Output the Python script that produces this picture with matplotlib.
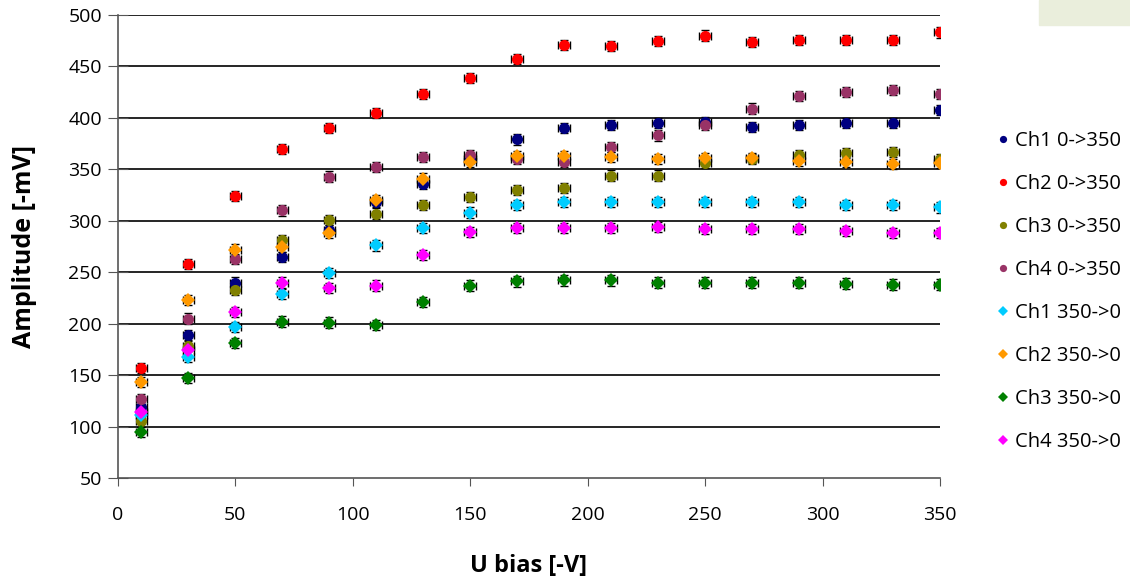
import matplotlib
matplotlib.use("Agg")
import matplotlib.pyplot as plt
from matplotlib.patches import Rectangle

x_bias = [10, 30, 50, 70, 90, 110, 130, 150, 170, 190, 210, 230, 250, 270, 290, 310, 330, 350]

ch1_up = [119, 189, 240, 265, 291, 318, 336, 360, 379, 390, 393, 395, 396, 391, 393, 395, 395, 408]
ch2_up = [157, 258, 324, 370, 390, 405, 423, 439, 457, 471, 470, 475, 480, 474, 476, 476, 476, 483]
ch3_up = [105, 178, 233, 281, 301, 307, 315, 323, 330, 332, 344, 344, 356, 360, 364, 366, 367, 360]
ch4_up = [127, 205, 263, 310, 343, 352, 362, 364, 360, 357, 372, 383, 393, 409, 421, 425, 427, 423]
ch1_down = [111, 168, 197, 229, 249, 276, 293, 308, 315, 318, 318, 318, 318, 318, 318, 315, 315, 313]
ch2_down = [143, 223, 272, 275, 288, 320, 341, 357, 363, 363, 362, 360, 361, 361, 358, 357, 355, 356]
ch3_down = [95, 147, 181, 202, 201, 199, 221, 237, 241, 242, 242, 240, 240, 240, 240, 239, 238, 238]
ch4_down = [114, 174, 211, 240, 235, 237, 267, 289, 293, 293, 293, 294, 292, 292, 292, 290, 288, 288]

series_labels = ["Ch1 0->350", "Ch2 0->350", "Ch3 0->350", "Ch4 0->350",
                 "Ch1 350->0", "Ch2 350->0", "Ch3 350->0", "Ch4 350->0"]
series_values = [ch1_up, ch2_up, ch3_up, ch4_up, ch1_down, ch2_down, ch3_down, ch4_down]
colors = ["#000080", "#FF0000", "#808000", "#993366",
          "#00CCFF", "#FF9900", "#008000", "#FF00FF"]
markers = ["o", "o", "o", "o", "D", "D", "D", "D"]
sizes = [8, 8, 8, 8, 7.5, 7.5, 7.5, 7.5]

x_ticks = [0, 50, 100, 150, 200, 250, 300, 350]
y_ticks = [50, 100, 150, 200, 250, 300, 350, 400, 450, 500]

plt.rcParams['font.family'] = ['Open Sans', 'DejaVu Sans']

fig = plt.figure(figsize=(11.3, 5.8), dpi=100)
ax = fig.add_axes([118/1130, 1 - 478/580, (940-118)/1130, (478-15)/580])

fig.patches.append(Rectangle((1039/1130, 1 - 25/580), 91/1130, 25/580,
                             transform=fig.transFigure, color="#EAEEDC", zorder=0))

for vals, lab, col, mk, ms in zip(series_values, series_labels, colors, markers, sizes):
    ax.errorbar(x_bias, vals, xerr=2.5, yerr=5, fmt='none', ecolor='black',
                elinewidth=1, capsize=3, capthick=1, zorder=2)
    ax.plot(x_bias, vals, linestyle='none', marker=mk, markersize=ms,
            color=col, markeredgewidth=0, label=lab, zorder=3)

ax.set_xlim(0, 350)
ax.set_ylim(50, 500)
ax.set_xticks(x_ticks)
ax.set_yticks(y_ticks)
ax.tick_params(axis='both', labelsize=14, color='#555555')
ax.tick_params(axis='x', direction='out', length=6, pad=14)
ax.tick_params(axis='y', direction='inout', length=15, pad=4)

for yv in y_ticks[1:]:
    ax.axhline(yv, color='black', linewidth=1.2, zorder=1)

for s in ['top', 'right']:
    ax.spines[s].set_visible(False)
for s in ['left', 'bottom']:
    ax.spines[s].set_color('#555555')
    ax.spines[s].set_linewidth(1.2)

ax.set_xlabel("U bias [-V]", fontsize=17, fontweight='bold', labelpad=22)
ax.set_ylabel("Amplitude [-mV]", fontsize=18, fontweight='bold',
              va='center', ha='center')
ax.yaxis.set_label_coords(-(118 - 25) / 822, 0.5)

leg = ax.legend(loc='upper left', bbox_to_anchor=(985/1130, 1 - 123/580),
                bbox_transform=fig.transFigure, frameon=False, fontsize=14.5,
                labelspacing=1.14, handletextpad=0.1, handlelength=1.0,
                markerscale=0.65, borderaxespad=0)

fig.savefig("out.png", dpi=100)
